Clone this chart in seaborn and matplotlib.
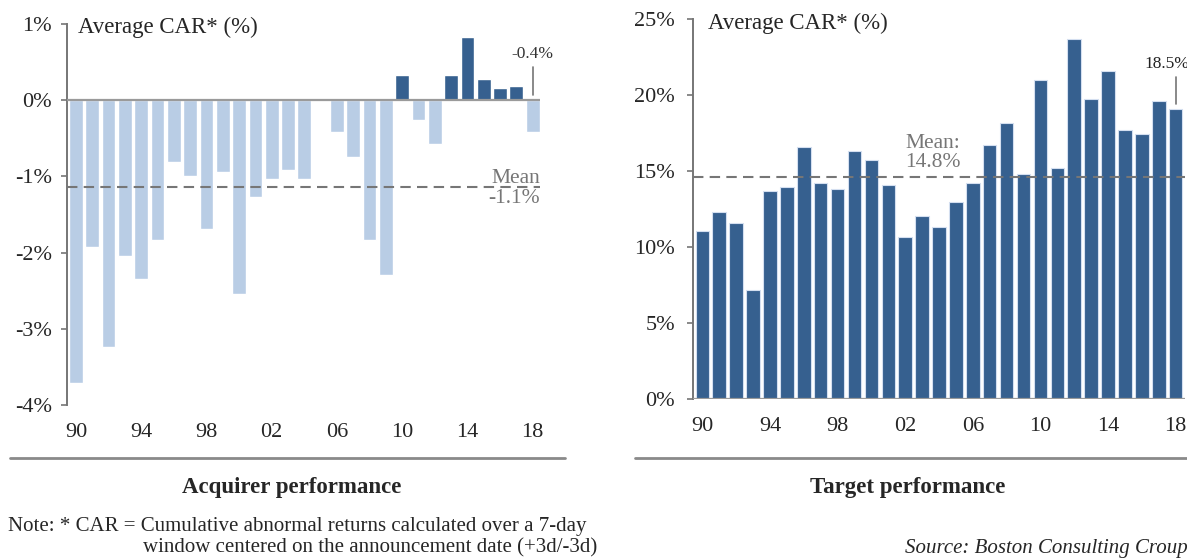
import numpy as np
import pandas as pd
import matplotlib.pyplot as plt
import seaborn as sns
from matplotlib.lines import Line2D

# datos
years = list(range(1990, 2019))
year_labels = [f"{y % 100:02d}" for y in years]
acquirer_car = [-3.71, -1.93, -3.24, -2.04, -2.34, -1.84, -0.81, -0.99, -1.69, -0.94,
                -2.54, -1.27, -1.04, -0.92, -1.04, 0.0, -0.42, -0.74, -1.84, -2.30,
                0.33, -0.26, -0.58, 0.33, 0.83, 0.28, 0.16, 0.18, -0.42]
target_car = [11.07, 12.30, 11.56, 7.17, 13.68, 13.93, 16.58, 14.19, 13.82, 16.32,
              15.70, 14.06, 10.68, 12.06, 11.29, 12.94, 14.19, 16.69, 18.18, 14.80,
              20.97, 15.18, 23.70, 19.72, 21.58, 17.68, 17.43, 19.58, 19.08]
acquirer_mean = -1.14
target_mean = 14.6
acquirer_mean_label = "Mean\n-1.1%"
target_mean_label = "Mean:\n14.8%"
acquirer_last_label = "-0.4%"
target_last_label = "18.5%"
acq_yticks = [1, 0, -1, -2, -3, -4]
tgt_yticks = [25, 20, 15, 10, 5, 0]
shown_years = [1990, 1994, 1998, 2002, 2006, 2010, 2014, 2018]

DARK = '#36608F'
LIGHT = '#B9CDE5'
GREY = '#767676'

sns.set_style("white")
plt.rcParams['font.family'] = ['Liberation Serif', 'DejaVu Serif']

df_acq = pd.DataFrame({'year': year_labels, 'car': acquirer_car})
df_acq['signo'] = np.where(df_acq['car'] >= 0, 'pos', 'neg')
df_tgt = pd.DataFrame({'year': year_labels, 'car': target_car})

fig = plt.figure(figsize=(11.87, 5.6), dpi=100)
ax1 = fig.add_axes([67 / 1187, 155 / 560, 473 / 1187, 381 / 560])
ax2 = fig.add_axes([693 / 1187, 161 / 560, 492 / 1187, 380 / 560])

# A. ACQUIRER
sns.barplot(data=df_acq, x='year', y='car', hue='signo', dodge=False,
            palette={'pos': DARK, 'neg': LIGHT}, width=0.84, legend=False,
            saturation=1, ax=ax1)
ax1.set_xlim(-0.55, 28.45)
ax1.set_ylim(-4, 1)
ax1.axhline(0, color='#9a9a9a', lw=1.6, zorder=3)
ax1.axhline(acquirer_mean, color=GREY, lw=1.5, ls=(0, (5, 3)), zorder=4)
ax1.text(28.45, acquirer_mean - 0.02, acquirer_mean_label, ha='right', va='center',
         fontsize=15.5, color=GREY, linespacing=1.05)
ax1.plot([28, 28], [0.07, 0.43], color=GREY, lw=1.2)
ax1.text(28, 0.6, acquirer_last_label, ha='center', va='center', fontsize=12.5, color='#333333')
ax1.text(0.023, 0.99, 'Average CAR* (%)', transform=ax1.transAxes,
         ha='left', va='center', fontsize=16.5)
ax1.set_yticks(acq_yticks)
ax1.set_yticklabels([f"{v}%" for v in acq_yticks])

# B. TARGET
sns.barplot(data=df_tgt, x='year', y='car', color=DARK, width=0.8, saturation=1,
            edgecolor='#d4dff0', linewidth=0.8, ax=ax2)
ax2.set_xlim(-0.55, 28.55)
ax2.set_ylim(0, 25)
ax2.axhline(0, color='#9a9a9a', lw=1.6, zorder=3)
ax2.axhline(target_mean, color=GREY, lw=1.5, ls=(0, (5, 3)), zorder=4)
ax2.text(12.0, target_mean + 0.35, target_mean_label, ha='left', va='bottom',
         fontsize=15.5, color=GREY, linespacing=1.0)
ax2.plot([28, 28], [19.4, 21.2], color=GREY, lw=1.2)
ax2.text(27.45, 22.05, target_last_label, ha='center', va='center', fontsize=12.5, color='#222222')
ax2.text(0.03, 0.988, 'Average CAR* (%)', transform=ax2.transAxes,
         ha='left', va='center', fontsize=16.5)
ax2.set_yticks(tgt_yticks)
ax2.set_yticklabels([f"{v}%" for v in tgt_yticks])

for ax, pad in [(ax1, 7), (ax2, 9)]:
    sns.despine(ax=ax, bottom=True)
    ax.spines['left'].set_color(GREY)
    ax.spines['left'].set_linewidth(1.4)
    ax.set_xlabel('')
    ax.set_ylabel('')
    ax.set_xticks([years.index(y) for y in shown_years])
    ax.set_xticklabels([f"{y % 100:02d}" for y in shown_years])
    ax.tick_params(axis='x', length=0, pad=13, labelsize=16)
    ax.tick_params(axis='y', length=4, width=1.2, color=GREY, direction='out',
                   left=True, pad=pad, labelsize=16)

# separadores y textos inferiores
fig.add_artist(Line2D([10 / 1187, 565 / 1187], [1 - 458 / 560] * 2, color='#8a8a8a', lw=2))
fig.add_artist(Line2D([635 / 1187, 1.0], [1 - 458 / 560] * 2, color='#8a8a8a', lw=2))
fig.text(292 / 1187, 1 - 487 / 560, 'Acquirer performance', ha='center', va='center',
         fontsize=16.5, fontweight='bold')
fig.text(908 / 1187, 1 - 487 / 560, 'Target performance', ha='center', va='center',
         fontsize=16.5, fontweight='bold')
fig.text(8 / 1187, 1 - 526 / 560, 'Note: * CAR = Cumulative abnormal returns calculated over a 7-day',
         ha='left', va='center', fontsize=15)
fig.text(143 / 1187, 1 - 548 / 560, 'window centered on the announcement date (+3d/-3d)',
         ha='left', va='center', fontsize=15)
fig.text(905 / 1187, 1 - 548 / 560, 'Source: Boston Consulting Croup', ha='left', va='center',
         fontsize=15, style='italic')

plt.savefig('out.png', dpi=100)
